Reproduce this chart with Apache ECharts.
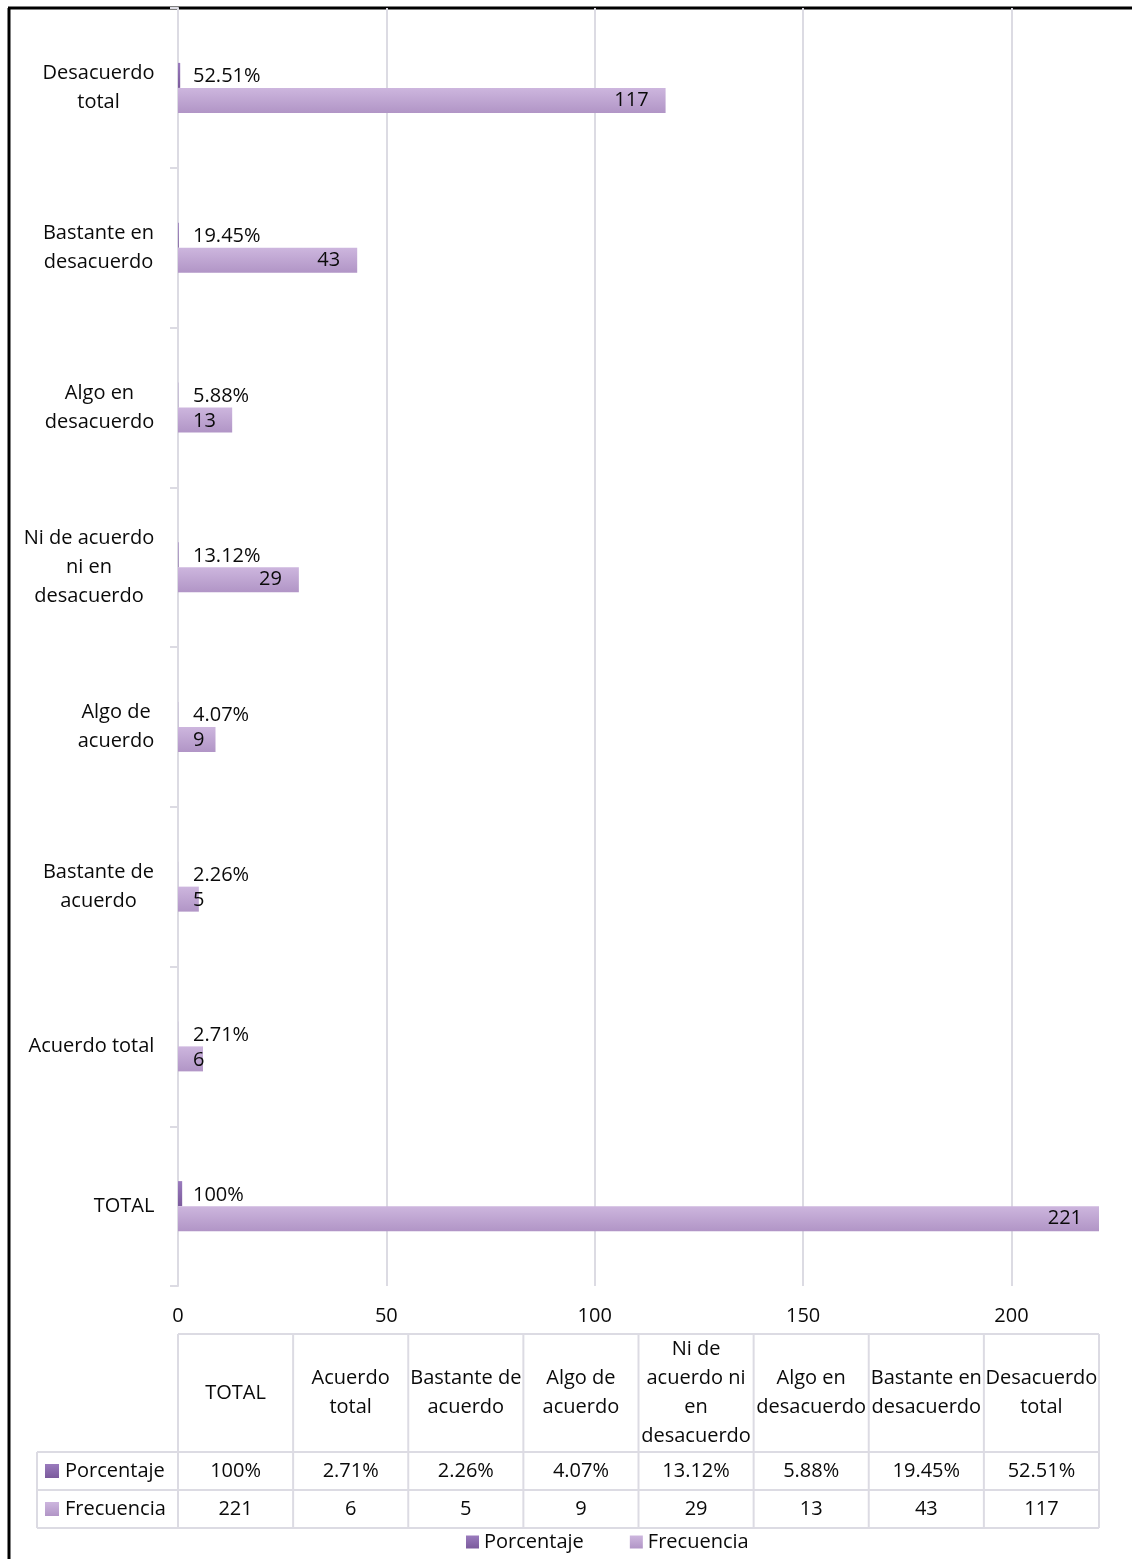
<!DOCTYPE html>
<html>
<head>
<meta charset="utf-8">
<script src="https://cdn.jsdelivr.net/npm/echarts@6/dist/echarts.min.js"></script>
<style>html,body{margin:0;padding:0;background:#fff}#c{width:1132px;height:1559px}</style>
</head>
<body>
<div id="c"></div>
<script>
// ---- data ----
const categories = ['TOTAL', 'Acuerdo total', 'Bastante de\nacuerdo', 'Algo de\nacuerdo',
  'Ni de acuerdo\nni en\ndesacuerdo', 'Algo en\ndesacuerdo', 'Bastante en\ndesacuerdo', 'Desacuerdo\ntotal'];
const tableHeaders = ['TOTAL', 'Acuerdo\ntotal', 'Bastante de\nacuerdo', 'Algo de\nacuerdo',
  'Ni de\nacuerdo ni\nen\ndesacuerdo', 'Algo en\ndesacuerdo', 'Bastante en\ndesacuerdo', 'Desacuerdo\ntotal'];
const porcentaje = [1, 0.0271, 0.0226, 0.0407, 0.1312, 0.0588, 0.1945, 0.5251];
const frecuencia = [221, 6, 5, 9, 29, 13, 43, 117];
const seriesNames = ['Porcentaje', 'Frecuencia'];
const xTicks = [0, 50, 100, 150, 200];

// ---- style ----
const FONT = 'Open Sans';
const FS = 20;
const TXT = '#0a0a0a';
const GRIDC = '#dcdbe3';
const G = { left: 178, top: 8, right: 1099, bottom: 1286 };
const W = 1132, H = 1559;

const cDark = new echarts.graphic.LinearGradient(0, 0, 0, 1, [{offset: 0, color: '#9a7bbd'}, {offset: 1, color: '#7b5a9c'}]);
const cLight = new echarts.graphic.LinearGradient(0, 0, 0, 1, [{offset: 0, color: '#cdb6de'}, {offset: 1, color: '#b195c6'}]);

function fmtPct(v) { return v === 1 ? '100%' : (v * 100).toFixed(2) + '%'; }

const cv = document.createElement('canvas').getContext('2d');
cv.font = FS + 'px "' + FONT + '"';
const rich = {};
categories.forEach((c, i) => {
  const w = Math.max(...c.split('\n').map(l => cv.measureText(l).width));
  rich['c' + i] = { width: Math.ceil(w) + 1, align: 'center', lineHeight: 29, fontSize: FS, fontFamily: FONT, color: TXT };
});

const chart = echarts.init(document.getElementById('c'), null, { renderer: 'canvas' });

// table graphics
const colW = (G.right - G.left) / categories.length;
const tTop = 1334, tHead = 1452, tR1 = 1490, tR2 = 1528, tLeft = 37;
const gEls = [];
const ls = { stroke: GRIDC, lineWidth: 2 };
const fontStr = FS + 'px "' + FONT + '"';
gEls.push({ type: 'line', shape: { x1: G.left, y1: tTop, x2: G.right, y2: tTop }, style: ls });
[tHead, tR1, tR2].forEach(y => gEls.push({ type: 'line', shape: { x1: tLeft, y1: y, x2: G.right, y2: y }, style: ls }));
gEls.push({ type: 'line', shape: { x1: tLeft, y1: tHead, x2: tLeft, y2: tR2 }, style: ls });
for (let i = 0; i <= categories.length; i++) {
  const x = G.left + i * colW;
  gEls.push({ type: 'line', shape: { x1: x, y1: tTop, x2: x, y2: tR2 }, style: ls });
}
const tstyle = (t, x, y) => ({ type: 'text', x: x, y: y, style: { text: t, fill: TXT, font: fontStr, align: 'center', verticalAlign: 'middle', lineHeight: 29 } });
tableHeaders.forEach((h, i) => {
  gEls.push(tstyle(h, G.left + (i + 0.5) * colW, (tTop + tHead) / 2));
  gEls.push(tstyle(fmtPct(porcentaje[i]), G.left + (i + 0.5) * colW, (tHead + tR1) / 2));
  gEls.push(tstyle(String(frecuencia[i]), G.left + (i + 0.5) * colW, (tR1 + tR2) / 2));
});
[[seriesNames[0], cDark, (tHead + tR1) / 2], [seriesNames[1], cLight, (tR1 + tR2) / 2]].forEach(([n, col, y]) => {
  gEls.push({ type: 'rect', shape: { x: 45, y: y - 7, width: 14, height: 14 }, style: { fill: col } });
  gEls.push({ type: 'text', x: 65, y: y, style: { text: n, fill: TXT, font: fontStr, align: 'left', verticalAlign: 'middle' } });
});
// outer border
gEls.push({ type: 'line', shape: { x1: 8, y1: 8, x2: W, y2: 8 }, style: { stroke: '#000', lineWidth: 3 } });
gEls.push({ type: 'line', shape: { x1: 9, y1: 8, x2: 9, y2: H }, style: { stroke: '#000', lineWidth: 3 } });

const smallLbl = { position: [15, '55%'], align: 'left', verticalAlign: 'middle' };

const option = {
  animation: false,
  backgroundColor: '#fff',
  textStyle: { fontFamily: FONT },
  grid: { left: G.left, top: G.top, right: W - G.right, bottom: H - G.bottom, containLabel: false },
  legend: {
    data: seriesNames, left: 461, top: 1527, itemWidth: 13, itemHeight: 13, itemGap: 46, icon: 'rect',
    textStyle: { fontSize: FS, fontFamily: FONT, color: TXT }
  },
  xAxis: {
    type: 'value', min: 0, max: 221, interval: 50,
    axisLine: { show: false }, axisTick: { show: false },
    axisLabel: { fontSize: FS, fontFamily: FONT, color: TXT, margin: 20, showMaxLabel: false,
      formatter: v => xTicks.includes(v) ? String(v) : '' },
    splitLine: { show: true, showMaxLine: false, lineStyle: { color: GRIDC, width: 2 } }
  },
  yAxis: {
    type: 'category', data: categories,
    axisLine: { show: true, lineStyle: { color: GRIDC, width: 2 } },
    axisTick: { show: true, length: 8, lineStyle: { color: GRIDC, width: 2 } },
    axisLabel: { margin: 23, formatter: (v, i) => v.split('\n').map(l => '{c' + i + '|' + l + '}').join('\n'), rich: rich }
  },
  series: [
    {
      name: seriesNames[0], type: 'bar', data: porcentaje, barWidth: 25, barGap: '0%',
      itemStyle: { color: cDark },
      label: { show: true, formatter: p => fmtPct(p.value), fontSize: FS, fontFamily: FONT, color: TXT, ...smallLbl }
    },
    {
      name: seriesNames[1], type: 'bar', barWidth: 25, barGap: '0%',
      data: frecuencia.map(v => v >= 14 ? v : { value: v, label: smallLbl }),
      itemStyle: { color: cLight },
      label: { show: true, position: 'insideRight', distance: 17, fontSize: FS, fontFamily: FONT, color: TXT }
    }
  ],
  graphic: { elements: gEls }
};
chart.setOption(option);
</script>
</body>
</html>
